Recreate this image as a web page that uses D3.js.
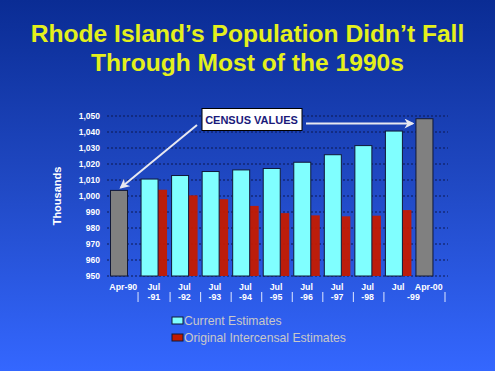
<!DOCTYPE html>
<html>
<head>
<meta charset="utf-8">
<script src="https://cdn.jsdelivr.net/npm/d3@7"></script>
<style>
  html, body { margin: 0; padding: 0; }
  svg { display: block; font-family: Arial, "Liberation Sans", sans-serif; }
</style>
</head>
<body>
<div id="chart"></div>
<script>
const width = 495;
const height = 371;

// data (thousands)
const categories = ["Apr-90", "Jul-91", "Jul-92", "Jul-93", "Jul-94", "Jul-95", "Jul-96", "Jul-97", "Jul-98", "Jul-99", "Apr-00"];
const current = [1003.5, 1010.6, 1012.8, 1015.3, 1016.3, 1017.2, 1021.1, 1025.8, 1031.5, 1040.6, 1048.3];
const original = [null, 1003.9, 1000.4, 998.0, 993.8, 989.3, 987.9, 987.3, 987.7, 991.2, null];
const isCensus = [true, false, false, false, false, false, false, false, false, false, true];
const topLabels = ["Apr-90", "Jul", "Jul", "Jul", "Jul", "Jul", "Jul", "Jul", "Jul", "Jul", "Apr-00"];
// second row of the category axis: label and the categories it spans
const yearGroups = [
  {label: "-91", from: 1, to: 1}, {label: "-92", from: 2, to: 2}, {label: "-93", from: 3, to: 3},
  {label: "-94", from: 4, to: 4}, {label: "-95", from: 5, to: 5}, {label: "-96", from: 6, to: 6},
  {label: "-97", from: 7, to: 7}, {label: "-98", from: 8, to: 8}, {label: "-99", from: 9, to: 10}
];
const yTicks = [950, 960, 970, 980, 990, 1000, 1010, 1020, 1030, 1040, 1050];
const legendItems = [
  {name: "Current Estimates", color: "#80ffff"},
  {name: "Original Intercensal Estimates", color: "#c41a00"}
];

const svg = d3.select("#chart")
  .append("svg")
  .attr("width", width)
  .attr("height", height);

// background
const defs = svg.append("defs");
const grad = defs.append("linearGradient")
  .attr("id", "bg")
  .attr("x1", 0).attr("y1", 0).attr("x2", 0).attr("y2", 1);
grad.append("stop").attr("offset", "0%").attr("stop-color", "#0a2c94");
grad.append("stop").attr("offset", "50%").attr("stop-color", "#2049c4");
grad.append("stop").attr("offset", "100%").attr("stop-color", "#3467ff");
svg.append("rect").attr("width", width).attr("height", height).attr("fill", "url(#bg)");

const arrowMarker = defs.append("marker")
  .attr("id", "arrow")
  .attr("viewBox", "0 0 10 10")
  .attr("refX", 8).attr("refY", 5)
  .attr("markerWidth", 5).attr("markerHeight", 5)
  .attr("orient", "auto");
arrowMarker.append("path").attr("d", "M0,0 L10,5 L0,10 L3,5 z").attr("fill", "#e8e8f0");

// title
svg.append("text")
  .attr("x", width / 2).attr("y", 42)
  .attr("text-anchor", "middle")
  .attr("font-size", 24.6).attr("font-weight", "bold")
  .attr("fill", "#e4f01c")
  .text("Rhode Island\u2019s Population Didn\u2019t Fall");
svg.append("text")
  .attr("x", width / 2).attr("y", 71)
  .attr("text-anchor", "middle")
  .attr("font-size", 24.6).attr("font-weight", "bold")
  .attr("fill", "#e4f01c")
  .text("Through Most of the 1990s");

// scales
const x = d3.scaleBand()
  .domain(categories)
  .range([108, 444])
  .padding(0);
const y = d3.scaleLinear()
  .domain([950, 1050])
  .range([276, 116]);

// grid lines
svg.append("g")
  .selectAll("line")
  .data(yTicks)
  .join("line")
  .attr("x1", 107).attr("x2", 448)
  .attr("y1", (d) => y(d)).attr("y2", (d) => y(d))
  .attr("stroke", "#0c1850")
  .attr("stroke-width", 1)
  .attr("stroke-dasharray", "2,2");

// y axis labels
svg.append("g")
  .selectAll("text")
  .data(yTicks)
  .join("text")
  .attr("x", 100)
  .attr("y", (d) => y(d) + 3)
  .attr("text-anchor", "end")
  .attr("font-size", 8.5).attr("font-weight", "bold")
  .attr("fill", "#ffffff")
  .text((d) => d3.format(",")(d));

svg.append("text")
  .attr("transform", "translate(61,196) rotate(-90)")
  .attr("text-anchor", "middle")
  .attr("font-size", 11).attr("font-weight", "bold")
  .attr("fill", "#ffffff")
  .text("Thousands");

// bars: original estimates (behind), then current / census
const origData = categories.map((c, i) => ({c, v: original[i]})).filter((d) => d.v !== null);
svg.append("g")
  .selectAll("rect")
  .data(origData)
  .join("rect")
  .attr("x", (d) => x(d.c) + 19)
  .attr("width", 9.5)
  .attr("y", (d) => y(d.v))
  .attr("height", (d) => y(950) - y(d.v))
  .attr("fill", "#c41a00")
  .attr("opacity", 0.95);

const curData = categories.map((c, i) => ({c, v: current[i], census: isCensus[i]}));
svg.append("g")
  .selectAll("rect")
  .data(curData)
  .join("rect")
  .attr("x", (d) => x(d.c) + 2.5)
  .attr("width", 17)
  .attr("y", (d) => y(d.v))
  .attr("height", (d) => y(950) - y(d.v))
  .attr("fill", (d) => d.census ? "#808080" : "#80ffff")
  .attr("stroke", "#101838")
  .attr("stroke-width", 1);

// category labels
const center = (i) => x(categories[i]) + x.bandwidth() / 2;
svg.append("g")
  .selectAll("text")
  .data(topLabels)
  .join("text")
  .attr("x", (d, i) => center(i))
  .attr("y", 290)
  .attr("text-anchor", "middle")
  .attr("font-size", 8.8).attr("font-weight", "bold")
  .attr("fill", "#ffffff")
  .text((d) => d);

svg.append("g")
  .selectAll("text")
  .data(yearGroups)
  .join("text")
  .attr("x", (d) => (center(d.from) + center(d.to)) / 2)
  .attr("y", 300)
  .attr("text-anchor", "middle")
  .attr("font-size", 8.8).attr("font-weight", "bold")
  .attr("fill", "#ffffff")
  .text((d) => d.label);

svg.append("g")
  .selectAll("line")
  .data(yearGroups)
  .join("line")
  .attr("x1", (d) => x(categories[d.to]) + x.bandwidth() + 1)
  .attr("x2", (d) => x(categories[d.to]) + x.bandwidth() + 1)
  .attr("y1", 292).attr("y2", 302)
  .attr("stroke", "#e0e8ff")
  .attr("stroke-width", 1);
svg.append("line")
  .attr("x1", x(categories[1]) - 0.5).attr("x2", x(categories[1]) - 0.5)
  .attr("y1", 292).attr("y2", 302)
  .attr("stroke", "#e0e8ff")
  .attr("stroke-width", 1);

// callout with arrows to the census bars
svg.append("line")
  .attr("x1", 197).attr("y1", 125)
  .attr("x2", x(categories[0]) + 13).attr("y2", y(current[0]) - 3)
  .attr("stroke", "#e8e8f0").attr("stroke-width", 2)
  .attr("marker-end", "url(#arrow)");
svg.append("line")
  .attr("x1", 306).attr("y1", 123.5)
  .attr("x2", x(categories[10]) - 1).attr("y2", 123.5)
  .attr("stroke", "#e8e8f0").attr("stroke-width", 2)
  .attr("marker-end", "url(#arrow)");

svg.append("rect")
  .attr("x", 202).attr("y", 108.5)
  .attr("width", 100).attr("height", 22)
  .attr("fill", "#ffffff")
  .attr("stroke", "#000000").attr("stroke-width", 1);
svg.append("text")
  .attr("x", 251.5).attr("y", 123.5)
  .attr("text-anchor", "middle")
  .attr("font-size", 11).attr("font-weight", "bold")
  .attr("fill", "#1a1a7a")
  .text("CENSUS VALUES");

// legend
const legend = svg.append("g")
  .selectAll("g")
  .data(legendItems)
  .join("g")
  .attr("transform", (d, i) => `translate(172,${317 + i * 17})`);
legend.append("rect")
  .attr("width", 11).attr("height", 7)
  .attr("fill", (d) => d.color)
  .attr("stroke", "#101838").attr("stroke-width", 1);
legend.append("text")
  .attr("x", 12).attr("y", 7.5)
  .attr("font-size", 12.2)
  .attr("fill", "#c8c8c8")
  .text((d) => d.name);
</script>
</body>
</html>
